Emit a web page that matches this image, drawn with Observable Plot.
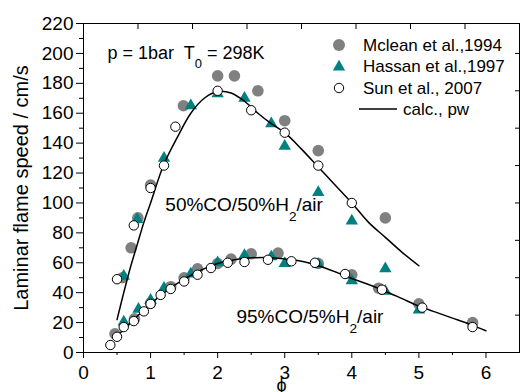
<!DOCTYPE html>
<html><head><meta charset="utf-8">
<script src="https://cdn.jsdelivr.net/npm/d3@7"></script>
<script src="https://cdn.jsdelivr.net/npm/@observablehq/plot@0.6"></script>
<style>body{margin:0;background:#fff}#chart{width:520px;height:392px}</style>
</head><body><div id="chart"></div>
<script>
// 50%CO/50%H2/air
const mcleanPhiA = [0.58,0.71,0.81,1.0,1.49,2.0,2.25,2.6,3.0,3.5,4.5];
const mcleanSA   = [50,70,90,112,165,185,185,175,155,135,90];
const hassanPhiA = [0.6,0.8,1.2,1.6,2.0,2.4,2.8,3.0,3.5,4.0,4.5];
const hassanSA   = [51,89,130,165,173,170,153,138,107,88,56];
const sunPhiA    = [0.5,0.75,1.0,1.2,1.37,2.0,2.5,3.0,3.5,4.0];
const sunSA      = [49,85,110,125,151,175,162,147,125,100];
const calcPhiA   = [0.5,0.6,0.7,0.8,0.9,1.0,1.2,1.4,1.6,1.8,2.0,2.2,2.4,2.6,2.8,3.0,3.25,3.5,3.75,4.0,4.25,4.5,4.75,5.0];
const calcSA     = [22,40,57,72,87,100,126,144,160,170,174.5,173.5,168,160,153,147,136,124,112,100,87,77,67,58];
// 95%CO/5%H2/air
const mcleanPhiB = [0.47,0.76,1.0,1.3,1.5,1.7,2.0,2.2,2.5,2.9,3.5,4.0,4.4,5.0,5.8];
const mcleanSB   = [12.5,22.5,33,44,50,56,59.5,62.5,66,66.5,59.5,52,43,32.5,20];
const hassanPhiB = [0.6,0.82,1.0,1.2,1.6,2.0,2.4,2.8,3.0,3.5,4.0,4.5,5.0];
const hassanSB   = [20.5,29,35,43,52.5,60,65,64,59.5,59,48,41,28.5];
const sunPhiB    = [0.4,0.5,0.6,0.75,0.9,1.0,1.15,1.3,1.5,1.7,1.9,2.15,2.4,2.75,3.1,3.45,3.9,4.45,5.05,5.8];
const sunSB      = [5,10.5,17,21,27.5,32.5,38.5,42.5,47.5,52,56.5,60,60.5,62,61,60,52.5,42,30,17];
const calcPhiB   = [0.5,0.75,1.0,1.25,1.5,1.75,2.0,2.25,2.5,2.75,3.0,3.25,3.5,3.75,4.0,4.25,4.5,4.75,5.0,5.25,5.5,5.75,6.0];
const calcSB     = [11,22,32.5,41.5,49,55,59.5,62,63.3,63.5,62.5,61,58,54,49.5,45.5,41,36,31,27,23,19,14.5];

const xTicks = [0,1,2,3,4,5,6];
const xMinorTicks = [0.5,1.5,2.5,3.5,4.5,5.5];
const yTicks = [0,20,40,60,80,100,120,140,160,180,200,220];
const yMinorTicks = [10,30,50,70,90,110,130,150,170,190,210];
const topTicks = [0.8125,1.625,2.4375,3.25,4.0625,4.875,5.6875];
const rightTicks = [25,50,75,100,125,150,175,200];

const legendLabels = ["Mclean et al.,1994","Hassan et al.,1997","Sun et al., 2007","calc., pw"];
const condLabel = ["p = 1bar  T_0 = 298K"];
const annotations = [
  {phi: 1.22, s: 99, label: "50%CO/50%H_2/air"},
  {phi: 2.28, s: 23.6, label: "95%CO/5%H_2/air"}
];
const yLabel = "Laminar flame speed / cm/s";
const xLabel = "ϕ";

const zip = (xs, ys) => xs.map((x, i) => ({phi: x, s: ys[i]}));
const mclean = zip(mcleanPhiA, mcleanSA).concat(zip(mcleanPhiB, mcleanSB));
const hassan = zip(hassanPhiA, hassanSA).concat(zip(hassanPhiB, hassanSB));
const sun = zip(sunPhiA, sunSA).concat(zip(sunPhiB, sunSB));
const calcA = zip(calcPhiA, calcSA);
const calcB = zip(calcPhiB, calcSB);

const GRAY = "#808080", TEAL = "#008080";
const FONT = "'Liberation Sans', Arial, sans-serif";

const plot = Plot.plot({
  width: 520, height: 392,
  marginLeft: 83, marginRight: 1, marginTop: 23, marginBottom: 40,
  style: {fontFamily: FONT, fontSize: "18px", background: "white", color: "black"},
  x: {domain: [0, 6.5]},
  y: {domain: [0, 220]},
  marks: [
    Plot.axisY(yMinorTicks, {tickSize: 4, tickFormat: () => "", label: null}),
    Plot.axisY(yTicks, {tickSize: 7, tickPadding: 3, fontSize: 19, label: null}),
    Plot.axisX(xMinorTicks, {tickSize: 3, tickFormat: () => "", label: null}),
    Plot.axisX(xTicks, {tickSize: 6, tickPadding: 7, fontSize: 19, label: null}),
    Plot.axisX(topTicks, {anchor: "top", tickSize: 5, dy: 5, tickFormat: () => "", label: null}),
    Plot.axisY(rightTicks, {anchor: "right", tickSize: 5, dx: -5, tickFormat: () => "", label: null}),
    Plot.frame({stroke: "black"}),
    Plot.dot(mclean, {x: "phi", y: "s", r: 5.8, fill: GRAY}),
    Plot.dot(hassan, {x: "phi", y: "s", r: 4.6, symbol: "triangle", fill: TEAL}),
    Plot.line(calcA, {x: "phi", y: "s", curve: "catmull-rom", stroke: "black", strokeWidth: 1.5}),
    Plot.line(calcB, {x: "phi", y: "s", curve: "catmull-rom", stroke: "black", strokeWidth: 1.5}),
    Plot.dot(sun, {x: "phi", y: "s", r: 4.7, fill: "white", stroke: "black", strokeWidth: 1}),
    Plot.text(annotations, {x: "phi", y: "s", text: "label", textAnchor: "start", lineAnchor: "middle", fontSize: 19}),
    Plot.text(condLabel, {frameAnchor: "top-left", text: d => d, dx: 24, dy: 29.5, textAnchor: "start", lineAnchor: "middle", fontSize: 18}),
    Plot.text([yLabel], {frameAnchor: "left", text: d => d, rotate: -90, dx: -62, textAnchor: "middle", lineAnchor: "middle", fontSize: 20}),
    Plot.text([xLabel], {frameAnchor: "bottom", text: d => d, dx: -20, dy: 26, textAnchor: "middle", lineAnchor: "top", fontSize: 18})
  ]
});

// subscripts: "_x" marks a subscript character
d3.select(plot).selectAll("text").each(function() {
  if (this.childElementCount > 0 || !this.textContent.includes("_")) return;
  const el = d3.select(this);
  let fs = 18;
  for (let n = this; n && n.getAttribute; n = n.parentNode) {
    const a = n.getAttribute("font-size");
    if (a) { fs = parseFloat(a); break; }
  }
  const parts = this.textContent.split(/_(\w)/);
  el.text(null).style("white-space", "pre");
  parts.forEach((p, i) => {
    if (!p) return;
    const t = el.append("tspan").text(p);
    if (i % 2 === 1) t.attr("font-size", fs * 0.72).style("baseline-shift", `${-fs * 0.52}px`);
  });
});

// legend
const lg = d3.select(plot).append("g")
  .attr("font-family", FONT).attr("font-size", 17).attr("fill", "black").attr("text-anchor", "start");
const rows = [45, 66, 88, 109];
const mx = 339, tx = 363;
lg.append("circle").attr("cx", mx).attr("cy", rows[0]).attr("r", 6).attr("fill", GRAY);
lg.append("path").attr("d", d3.symbol(d3.symbolTriangle, Math.PI * 4.6 * 4.6)()).attr("transform", `translate(${mx},${rows[1] + 1})`).attr("fill", TEAL);
lg.append("circle").attr("cx", mx).attr("cy", rows[2]).attr("r", 4.7).attr("fill", "white").attr("stroke", "black");
lg.append("line").attr("x1", 359).attr("x2", 397).attr("y1", rows[3]).attr("y2", rows[3]).attr("stroke", "black").attr("stroke-width", 1.5);
legendLabels.forEach((t, i) => {
  lg.append("text").attr("x", i === 3 ? 403 : tx).attr("y", rows[i]).attr("dy", "0.35em").attr("text-anchor", "start").text(t);
});

document.getElementById("chart").appendChild(plot);
</script>
</body></html>
